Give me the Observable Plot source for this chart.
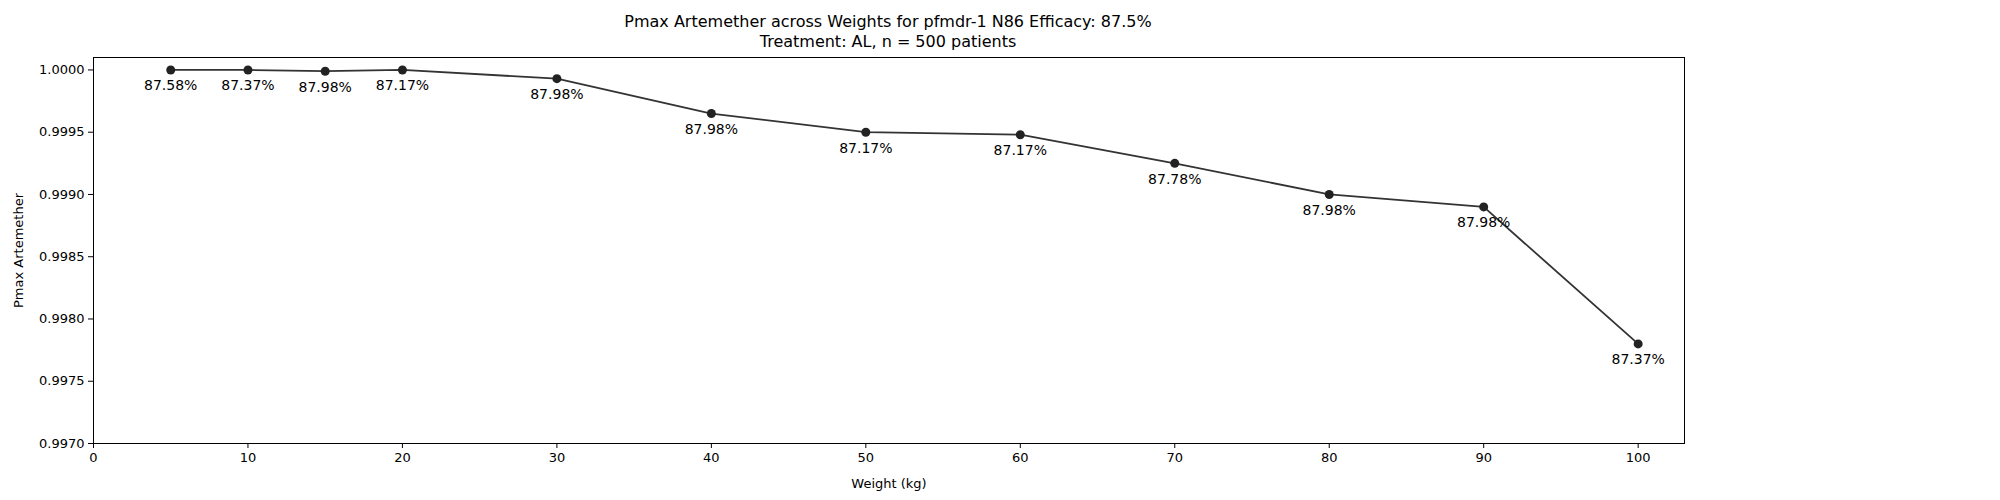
<!DOCTYPE html>
<html>
<head>
<meta charset="utf-8">
<script src="https://cdn.jsdelivr.net/npm/d3@7"></script>
<script src="https://cdn.jsdelivr.net/npm/@observablehq/plot@0.6"></script>
<style>
  body { margin: 0; background: white; font-family: "DejaVu Sans", sans-serif; }
  #title { width: 2000px; height: 50px; position: relative; }
  #title div { position: absolute; left: 888px; transform: translateX(-50%); font-size: 16px; white-space: nowrap; }
</style>
</head>
<body>
<div id="title">
  <div style="top:12px">Pmax Artemether across Weights for pfmdr-1 N86 Efficacy: 87.5%</div>
  <div style="top:32px">Treatment: AL, n = 500 patients</div>
</div>
<div id="chart"></div>
<script>
var weights = [5, 10, 15, 20, 30, 40, 50, 60, 70, 80, 90, 100]
var pmax = [1.0000, 1.0000, 0.99999, 1.0000, 0.99993, 0.99965, 0.99950, 0.99948, 0.99925, 0.99900, 0.99890, 0.99780]
var efficacy = ["87.58%", "87.37%", "87.98%", "87.17%", "87.98%", "87.98%", "87.17%", "87.17%", "87.78%", "87.98%", "87.98%", "87.37%"]
var yTicks = [0.9970, 0.9975, 0.9980, 0.9985, 0.9990, 0.9995, 1.0000]

var data = weights.map((w, i) => ({weight: w, pmax: pmax[i], label: efficacy[i]}))

var chart = Plot.plot({
  width: 2000,
  height: 450,
  marginLeft: 93,
  marginRight: 316,
  marginTop: 7,
  marginBottom: 57,
  style: {fontSize: 13, fontFamily: "DejaVu Sans, sans-serif", color: "black"},
  x: {domain: [0, 103], ticks: d3.range(0, 101, 10), label: "Weight (kg)", labelAnchor: "center", labelArrow: "none", labelOffset: 44, tickSize: 5},
  y: {domain: [0.9970, 1.0001], ticks: yTicks, tickFormat: d3.format(".4f"), label: "Pmax Artemether", labelAnchor: "center", labelArrow: "none", labelOffset: 80, tickSize: 5},
  marks: [
    Plot.frame({stroke: "black"}),
    Plot.line(data, {x: "weight", y: "pmax", stroke: "#333", strokeWidth: 1.8}),
    Plot.dot(data, {x: "weight", y: "pmax", fill: "#222", r: 4.5}),
    Plot.text(data, {x: "weight", y: "pmax", text: "label", dy: 16, fontSize: 14, fill: "black"})
  ]
})
d3.select('#chart').append(() => chart)
</script>
</body>
</html>
